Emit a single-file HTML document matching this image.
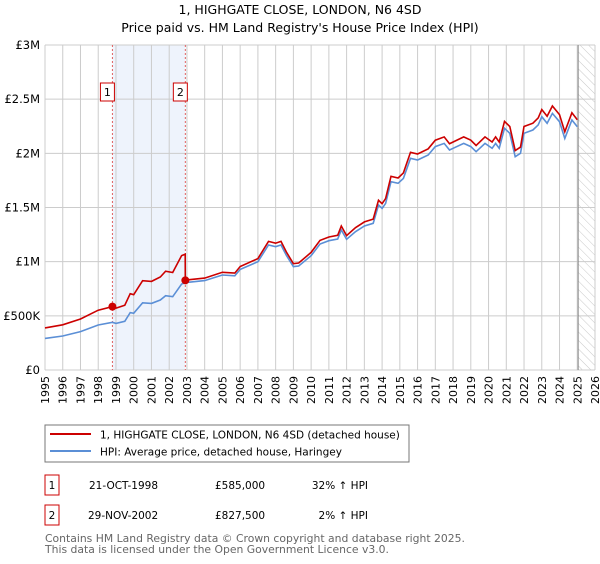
<!DOCTYPE html>
<html><head><meta charset="utf-8"><style>
body{margin:0;background:#fff;font-family:"DejaVu Sans","Liberation Sans",sans-serif;}
svg text{font-family:"DejaVu Sans","Liberation Sans",sans-serif;}
</style></head><body>
<svg id="c" width="600" height="560" viewBox="0 0 600 560" xmlns="http://www.w3.org/2000/svg">
<defs><pattern id="hatch" width="6" height="6" patternUnits="userSpaceOnUse" patternTransform="rotate(-45)"><line x1="0" y1="0" x2="0" y2="6" stroke="#bbb" stroke-width="0.8"/></pattern></defs>
<text x="300" y="14" text-anchor="middle" font-size="12.5" fill="#000">1, HIGHGATE CLOSE, LONDON, N6 4SD</text>
<text x="300" y="32" text-anchor="middle" font-size="12.5" fill="#000">Price paid vs. HM Land Registry's House Price Index (HPI)</text>
<g id="grid"></g><g id="marks"></g><g id="axes"></g>
<rect x="45" y="425" width="364" height="37" fill="#fff" stroke="#777"/>
<line x1="50" y1="434" x2="91" y2="434" stroke="#cc0000" stroke-width="2"/>
<text x="100" y="438.5" font-size="10.5">1, HIGHGATE CLOSE, LONDON, N6 4SD (detached house)</text>
<line x1="50" y1="451" x2="91" y2="451" stroke="#5b8fd6" stroke-width="2"/>
<text x="100" y="455.5" font-size="10.5">HPI: Average price, detached house, Haringey</text>
<g font-size="10.5" fill="#000">
<rect x="45" y="475" width="14" height="20" fill="none" stroke="#cc0000"/><text x="52" y="489" text-anchor="middle">1</text>
<text x="89" y="489">21-OCT-1998</text>
<text x="215" y="489">£585,000</text>
<text x="368" y="489" text-anchor="end">32% ↑ HPI</text>
<rect x="45" y="505" width="14" height="20" fill="none" stroke="#cc0000"/><text x="52" y="519" text-anchor="middle">2</text>
<text x="88" y="519">29-NOV-2002</text>
<text x="215" y="519">£827,500</text>
<text x="368" y="519" text-anchor="end">2% ↑ HPI</text>
</g>
<text x="45" y="542" font-size="10.8" fill="#666">Contains HM Land Registry data © Crown copyright and database right 2025.</text>
<text x="45" y="553" font-size="10.8" fill="#666">This data is licensed under the Open Government Licence v3.0.</text>
</svg>
<script>
const hpiYears=[1995,1996,1997,1998,1998.8,1999,1999.5,1999.8,2000,2000.5,2001,2001.5,2001.8,2002.2,2002.7,2003,2004,2005,2005.7,2006,2007,2007.6,2008,2008.3,2008.6,2009,2009.3,2010,2010.5,2011,2011.5,2011.7,2012,2012.5,2013,2013.5,2013.8,2014,2014.2,2014.5,2014.9,2015.2,2015.6,2016,2016.6,2017,2017.5,2017.8,2018,2018.6,2019,2019.3,2019.8,2020.2,2020.4,2020.6,2020.9,2021.2,2021.5,2021.8,2022,2022.5,2022.8,2023,2023.3,2023.6,2024,2024.3,2024.7,2025];
const hpiValues=[292,314,354,415,440,430,450,530,523,620,615,646,686,677,794,809,825,877,870,929,1000,1154,1138,1154,1060,954,960,1055,1163,1194,1209,1292,1206,1277,1329,1354,1523,1492,1538,1738,1723,1769,1954,1938,1985,2062,2092,2031,2046,2092,2062,2015,2092,2046,2092,2046,2231,2185,1969,2000,2185,2215,2262,2338,2277,2369,2292,2138,2308,2246];
const saleYears=[1998.8,2002.91];
const salePrices=[585,827.5];
const saleLabels=["1","2"];
const yTicks=[0,500,1000,1500,2000,2500,3000];
const yTickLabels=["£0","£500K","£1M","£1.5M","£2M","£2.5M","£3M"];
const xTicks=[];for(let y=1995;y<=2026;y++)xTicks.push(y);
const X0=45,X1=595,Y0=370,Y1=45;
const xs=y=>X0+(y-1995)/(2026-1995)*(X1-X0);
const ys=v=>Y0-v/3000*(Y0-Y1);
const NS="http://www.w3.org/2000/svg";
function mk(parent,tag,attrs){const e=document.createElementNS(NS,tag);for(const k in attrs)e.setAttribute(k,attrs[k]);document.getElementById(parent).appendChild(e);return e;}
function hpiAt(t){for(let i=0;i<hpiYears.length-1;i++){if(t<=hpiYears[i+1]){const f=(t-hpiYears[i])/(hpiYears[i+1]-hpiYears[i]);return hpiValues[i]+f*(hpiValues[i+1]-hpiValues[i]);}}return hpiValues[hpiValues.length-1];}
let r=mk("grid","rect",{x:xs(saleYears[0]),y:Y1,width:xs(saleYears[1])-xs(saleYears[0]),height:Y0-Y1,fill:"#eef3fc"});


r=mk("grid","rect",{x:xs(2025.05),y:Y1,width:X1-xs(2025.05),height:Y0-Y1,fill:"url(#hatch)"});


xTicks.forEach(y=>{const l=mk("grid","line",{x1:xs(y),x2:xs(y),y1:Y1,y2:Y0,stroke:"#ccc","stroke-width":1});


const t=mk("axes","text",{x:0,y:0,"font-size":11,"text-anchor":"end",transform:`translate(${xs(y)+4},${Y0+6}) rotate(-90)`});
t.textContent=y;

});
yTicks.forEach((v,i)=>{const l=mk("grid","line",{x1:X0,x2:X1,y1:ys(v),y2:ys(v),stroke:"#ccc","stroke-width":1});


const t=mk("axes","text",{x:X0-5,y:ys(v)+4,"font-size":11.5,"text-anchor":"end"});
t.textContent=yTickLabels[i];

});
let l=mk("grid","line",{x1:xs(2025.05),x2:xs(2025.05),y1:Y1,y2:Y0,stroke:"#888","stroke-width":1});


saleYears.forEach((s,i)=>{const d=mk("marks","line",{x1:xs(s),x2:xs(s),y1:Y1,y2:Y0,stroke:"#e06060","stroke-width":1,"stroke-dasharray":"2,2"});

});
let p=hpiYears.map((y,i)=>(i?"L":"M")+xs(y).toFixed(1)+","+ys(hpiValues[i]).toFixed(1)).join("");
let hp=mk("marks","path",{d:p,fill:"none",stroke:"#5b8fd6","stroke-width":1.6});


const redPts=[];
hpiYears.forEach((y,i)=>{let k=y<saleYears[1]?0:1;redPts.push([y,hpiValues[i]*salePrices[k]/hpiAt(saleYears[k])]);});
redPts.push([saleYears[1],salePrices[1]]);redPts.push([saleYears[1]-0.01,hpiAt(saleYears[1]-0.01)*salePrices[0]/hpiAt(saleYears[0])]);
redPts.sort((a,b)=>a[0]-b[0]);
p=redPts.map((q,i)=>(i?"L":"M")+xs(q[0]).toFixed(1)+","+ys(q[1]).toFixed(1)).join("");
let rp=mk("marks","path",{d:p,fill:"none",stroke:"#cc0000","stroke-width":1.6});


saleYears.forEach((s,i)=>{const c=mk("marks","circle",{cx:xs(s),cy:ys(salePrices[i]),r:4,fill:"#cc0000"});


const b=mk("marks","rect",{x:xs(s)-12,y:83,width:14,height:18,fill:"#fff",stroke:"#cc0000"});


const t=mk("marks","text",{x:xs(s)-5,y:96,"font-size":11,"text-anchor":"middle"});
t.textContent=saleLabels[i];

});
</script>
</body></html>
